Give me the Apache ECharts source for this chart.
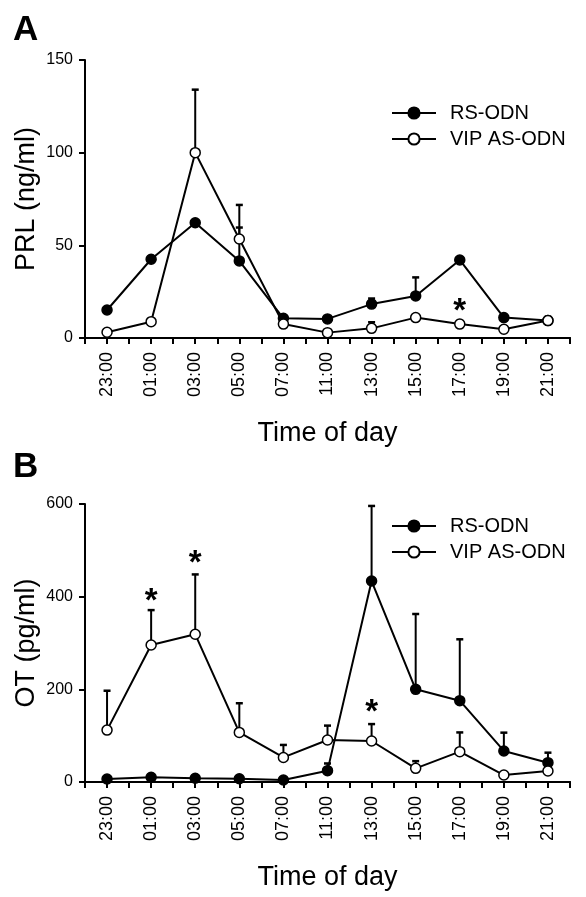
<!DOCTYPE html>
<html>
<head>
<meta charset="utf-8">
<script src="https://cdn.jsdelivr.net/npm/echarts@6/dist/echarts.min.js"></script>
<style>
html,body{margin:0;padding:0;background:#fff;}
#chart{width:586px;height:897px;}
</style>
</head>
<body>
<div id="chart"></div>
<script>
// ---- data ----
var categories = ['23:00','01:00','03:00','05:00','07:00','11:00','13:00','15:00','17:00','19:00','21:00'];
var seriesNames = ['RS-ODN', 'VIP AS-ODN'];

var prlRS     = [15.1, 42.5, 62.2, 41.6, 10.6, 10.3, 18.3, 22.7, 42.1, 11.0, 9.4];
var prlRSse   = [0, 0, 0, 18, 0, 0, 3, 10, 1.5, 0, 0];
var prlVIP    = [3.1, 8.8, 100, 53.4, 7.5, 2.9, 5.2, 11, 7.5, 4.7, 9.4];
var prlVIPse  = [0, 0, 34, 18.4, 0, 0, 3.3, 0, 1.7, 0, 2];

var otRS      = [6.5, 10, 8, 7, 4.3, 24.5, 433.8, 200, 175.5, 67, 41.7];
var otRSse    = [0, 0, 0, 0, 0, 15.5, 162, 162.6, 132.5, 39.5, 21.6];
var otVIP     = [112, 295.7, 318.8, 107, 53, 90.7, 88.5, 29.5, 65.5, 15, 23.7];
var otVIPse   = [85, 75.3, 129.2, 63, 27, 31, 36.5, 15.5, 41.5, 0, 0];

var prlTicks = [0, 50, 100, 150];
var otTicks  = [0, 200, 400, 600];

// significance markers: [category index, y value]
var starsA = [[8, 17.8]];
var starsB = [[1, 403], [2, 486], [6, 164]];

// ---- chart ----
var FONT = '"Liberation Sans", Arial, sans-serif';
var chart = echarts.init(document.getElementById('chart'), null, {renderer: 'canvas'});

function errData(vals, se) {
  var out = [];
  for (var i = 0; i < vals.length; i++) if (se[i] > 0) out.push([i, vals[i], se[i]]);
  return out;
}
function errRender(params, api) {
  var x = api.value(0), v = api.value(1), e = api.value(2);
  var p0 = api.coord([x, v]);
  var p1 = api.coord([x, v + e]);
  return {type: 'group', children: [
    {type: 'line', shape: {x1: p0[0], y1: p0[1], x2: p1[0], y2: p1[1]}, style: {stroke: '#000', lineWidth: 2}},
    {type: 'line', shape: {x1: p1[0] - 3.5, y1: p1[1], x2: p1[0] + 3.5, y2: p1[1]}, style: {stroke: '#000', lineWidth: 2.5}}
  ]};
}
function starRender(params, api) {
  var p = api.coord([api.value(0), api.value(1)]);
  return {type: 'text', x: p[0], y: p[1] + 7,
    style: {text: '*', fill: '#000', font: 'bold 33px ' + FONT, textAlign: 'center', textVerticalAlign: 'middle'}};
}

function xCat(grid) {
  return {type: 'category', gridIndex: grid, data: categories, boundaryGap: true,
    axisLine: {show: true, onZero: false, lineStyle: {color: '#000', width: 2}},
    axisTick: {show: false},
    axisLabel: {rotate: 90, margin: 14, color: '#000', fontSize: 18, fontFamily: FONT},
    name: 'Time of day', nameLocation: 'middle', nameGap: 82,
    nameTextStyle: {color: '#000', fontSize: 27, fontFamily: FONT}};
}
function xTicks(grid) {
  return {type: 'value', gridIndex: grid, min: -0.5, max: 10.5, interval: 0.5, position: 'bottom',
    axisLine: {show: true, onZero: false, lineStyle: {color: '#000', width: 2}},
    axisTick: {show: true, length: 6, lineStyle: {color: '#000', width: 2}},
    axisLabel: {show: false}, splitLine: {show: false}};
}
function yAx(grid, ticks, name) {
  return {type: 'value', gridIndex: grid, min: ticks[0], max: ticks[ticks.length - 1],
    interval: ticks[1] - ticks[0],
    axisLine: {show: true, onZero: false, lineStyle: {color: '#000', width: 2}},
    axisTick: {show: true, length: 6, lineStyle: {color: '#000', width: 2}},
    axisLabel: {margin: 12, color: '#000', fontSize: 16, fontFamily: FONT},
    splitLine: {show: false},
    name: name, nameLocation: 'middle', nameGap: 45, nameMoveOverlap: false,
    nameTextStyle: {color: '#000', fontSize: 27, fontFamily: FONT}};
}
function lineSeries(name, grid, data, filled) {
  return {type: 'line', name: name, xAxisIndex: grid * 2, yAxisIndex: grid, data: data,
    symbol: 'circle', symbolSize: 10, z: filled ? 4 : 5,
    lineStyle: {color: '#000', width: 2},
    itemStyle: {color: filled ? '#000' : '#fff', borderColor: '#000', borderWidth: 1.5},
    emphasis: {disabled: true}};
}
function errSeries(grid, vals, se) {
  return {type: 'custom', xAxisIndex: grid * 2, yAxisIndex: grid, data: errData(vals, se),
    renderItem: errRender, z: 3, silent: true};
}
function starSeries(grid, stars) {
  return {type: 'custom', xAxisIndex: grid * 2, yAxisIndex: grid, data: stars,
    renderItem: starRender, z: 6, silent: true};
}
function legend(top) {
  return {data: seriesNames, orient: 'vertical', left: 391, top: top, padding: 0,
    itemWidth: 44, itemHeight: 14, itemGap: 6,
    textStyle: {color: '#000', fontSize: 20, fontFamily: FONT, lineHeight: 20, padding: [0, 0, 0, 9]}};
}

chart.setOption({
  animation: false,
  backgroundColor: '#fff',
  title: [
    {text: 'A', left: 13, top: 13, padding: 0, textStyle: {fontSize: 35, fontWeight: 'bold', fontFamily: FONT, color: '#000'}},
    {text: 'B', left: 13, top: 450, padding: 0, textStyle: {fontSize: 35, fontWeight: 'bold', fontFamily: FONT, color: '#000'}}
  ],
  legend: [legend(103), legend(516)],
  grid: [
    {left: 85, top: 60, width: 485, height: 278, containLabel: false, outerBoundsMode: 'none'},
    {left: 85, top: 504, width: 485, height: 278, containLabel: false, outerBoundsMode: 'none'}
  ],
  xAxis: [xCat(0), xTicks(0), xCat(1), xTicks(1)],
  yAxis: [yAx(0, prlTicks, 'PRL (ng/ml)'), yAx(1, otTicks, 'OT (pg/ml)')],
  series: [
    errSeries(0, prlRS, prlRSse),
    errSeries(0, prlVIP, prlVIPse),
    lineSeries(seriesNames[0], 0, prlRS, true),
    lineSeries(seriesNames[1], 0, prlVIP, false),
    starSeries(0, starsA),
    errSeries(1, otRS, otRSse),
    errSeries(1, otVIP, otVIPse),
    lineSeries(seriesNames[0], 1, otRS, true),
    lineSeries(seriesNames[1], 1, otVIP, false),
    starSeries(1, starsB)
  ]
});
</script>
</body>
</html>
